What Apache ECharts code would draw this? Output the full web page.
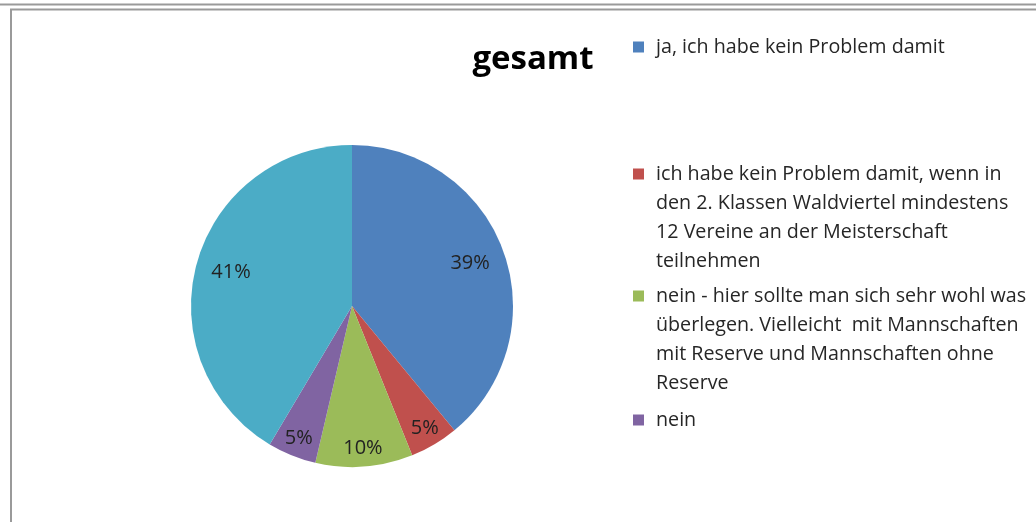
<!DOCTYPE html>
<html><head><meta charset="utf-8">
<script src="https://cdn.jsdelivr.net/npm/echarts@6/dist/echarts.min.js"></script>
<style>html,body{margin:0;padding:0;background:#fff}#c{width:1036px;height:522px}</style>
</head><body><div id="c"></div>
<script>
const titleText = 'gesamt';
const categories = [
  'ja, ich habe kein Problem damit',
  'ich habe kein Problem damit, wenn in den 2. Klassen Waldviertel mindestens 12 Vereine an der Meisterschaft teilnehmen',
  'nein - hier sollte man sich sehr wohl was überlegen. Vielleicht  mit Mannschaften mit Reserve und Mannschaften ohne Reserve',
  'nein',
  'keine Angabe'
];
const values = [16, 2, 4, 2, 17];
const legendLines = [
  ['ja, ich habe kein Problem damit'],
  ['ich habe kein Problem damit, wenn in', 'den 2. Klassen Waldviertel mindestens', '12 Vereine an der Meisterschaft', 'teilnehmen'],
  ['nein - hier sollte man sich sehr wohl was', 'überlegen. Vielleicht  mit Mannschaften', 'mit Reserve und Mannschaften ohne', 'Reserve'],
  ['nein']
];
const colors = ['#4F81BD', '#C0504D', '#9BBB59', '#8064A2', '#4BACC6'];

const FONT = '"Open Sans", sans-serif';
const LH = 29;
const ICON = 11;
const legendIconY = [47, 174, 296, 420];
const total = values.reduce((a, b) => a + b, 0);

const baseData = categories.map((n, i) => ({ name: n, value: values[i], itemStyle: { color: colors[i] } }));
function overlayData(big) {
  return categories.map((n, i) => {
    const isBig = values[i] / total >= 0.2;
    return { name: n, value: values[i], label: { show: isBig === big } };
  });
}
const labelStyle = {
  position: 'inside',
  formatter: p => Math.round(p.percent) + '%',
  fontFamily: FONT, fontSize: 20, color: '#222'
};
const overlayCommon = {
  type: 'pie', center: [352, 306], silent: true, avoidLabelOverlap: false,
  itemStyle: { color: 'rgba(0,0,0,0)', borderWidth: 0 },
  labelLine: { show: false }, emphasis: { disabled: true },
  label: labelStyle
};

// icon square placed at the first text line: tall invisible bounding box
const legends = legendLines.map((lines, i) => {
  const n = lines.length;
  const h = ICON + (n - 1) * LH;
  const icon = n === 1 ? 'rect'
    : 'path://M0,0h' + ICON + 'v' + ICON + 'h-' + ICON + 'zM0,' + h + 'L' + ICON + ',' + h;
  return {
    data: [{ name: categories[i], icon: icon }],
    orient: 'vertical',
    left: 633,
    top: legendIconY[i] - LH / 2,
    padding: 0,
    itemWidth: ICON, itemHeight: h,
    selectedMode: false,
    formatter: () => lines.join('\n'),
    textStyle: {
      fontFamily: FONT, fontSize: 19.7, color: '#262626', lineHeight: LH,
      padding: [0, 0, 0, 7]
    }
  };
});

const chart = echarts.init(document.getElementById('c'), null, { renderer: 'canvas' });
chart.setOption({
  animation: false,
  backgroundColor: '#fff',
  title: {
    text: titleText, left: 528, top: 38, textAlign: 'center',
    textStyle: { fontFamily: FONT, fontSize: 33, fontWeight: 'bold', color: '#000' }
  },
  legend: legends,
  graphic: [
    { type: 'line', shape: { x1: 0, y1: 4.5, x2: 1036, y2: 4.5 }, style: { stroke: '#9a9a9a', lineWidth: 2 }, silent: true },
    { type: 'line', shape: { x1: 10, y1: 9.5, x2: 1036, y2: 9.5 }, style: { stroke: '#9a9a9a', lineWidth: 2 }, silent: true },
    { type: 'line', shape: { x1: 11, y1: 9, x2: 11, y2: 522 }, style: { stroke: '#9a9a9a', lineWidth: 2 }, silent: true }
  ],
  series: [
    {
      type: 'pie', center: [352, 306], radius: [0, 161], startAngle: 90, clockwise: true,
      silent: true, avoidLabelOverlap: false,
      label: { show: false }, labelLine: { show: false }, emphasis: { disabled: true },
      itemStyle: { borderWidth: 0 },
      data: baseData
    },
    Object.assign({}, overlayCommon, { radius: [84, 161], data: overlayData(true) }),
    Object.assign({}, overlayCommon, { radius: [118, 161], data: overlayData(false) })
  ]
});
</script>
</body></html>
